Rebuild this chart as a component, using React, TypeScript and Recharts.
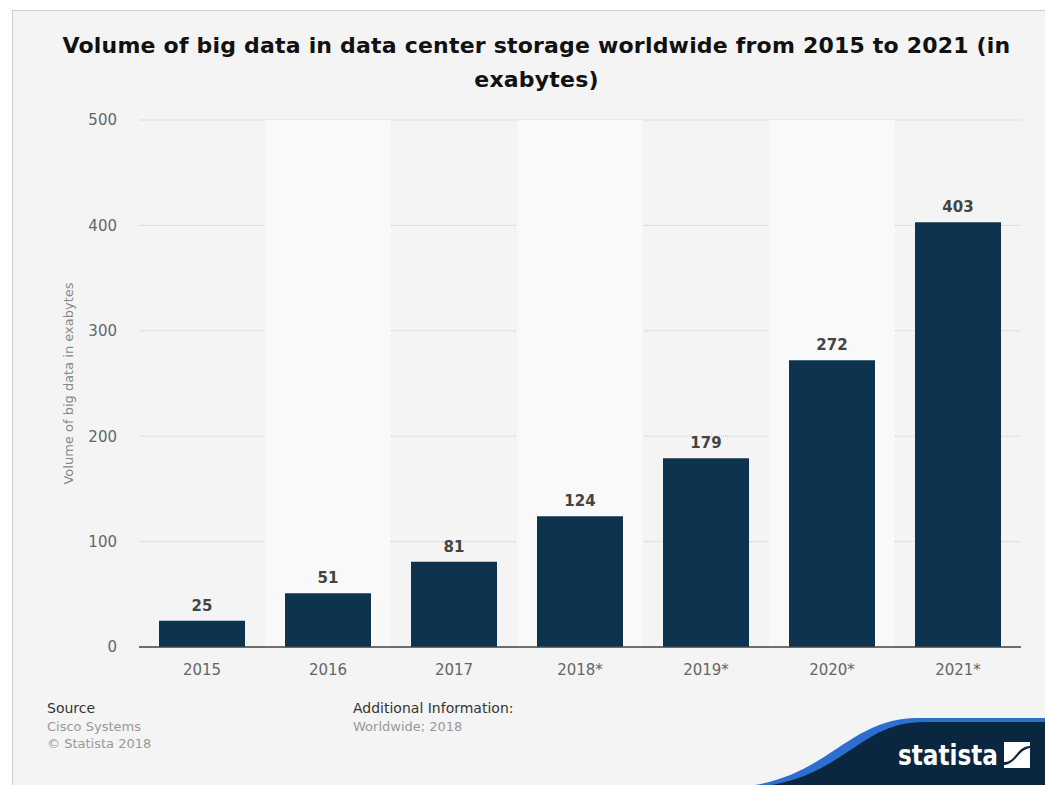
import { Bar, BarChart, CartesianGrid, LabelList, ReferenceArea, XAxis, YAxis } from "recharts"

const years = ["2015", "2016", "2017", "2018*", "2019*", "2020*", "2021*"]
const volumes = [25, 51, 81, 124, 179, 272, 403]
const yTicks = [0, 100, 200, 300, 400, 500]
const shadedYears = ["2016", "2018*", "2020*"]

const FONT = "'DejaVu Sans', Verdana, sans-serif"
const BAR_COLOR = "#0e334e"

const chartData = years.map((year, i) => ({ year, volume: volumes[i] }))

function StatistaLogo() {
  return (
    <svg
      width={1045}
      height={785}
      style={{ position: "absolute", left: 0, top: 0, pointerEvents: "none" }}
    >
      <path d="M 755 785 C 830 772, 850 720, 915 718 L 1045 718 L 1045 785 Z" fill="#2d6fd0" />
      <path d="M 772 785 C 845 772, 862 723, 922 722 L 1045 722 L 1045 785 Z" fill="#0b2740" />
      <text
        x={898}
        y={765}
        fill="#ffffff"
        fontFamily="'DejaVu Sans', sans-serif"
        fontWeight="bold"
        fontSize={29}
        textLength={100}
        lengthAdjust="spacingAndGlyphs"
      >
        statista
      </text>
      <path d="M 1004 742 L 1030 742 L 1030 746 C 1018 746, 1016 760, 1006 762 L 1004 762 Z" fill="#ffffff" />
      <path d="M 1030 768 L 1004 768 L 1004 765 C 1016 764, 1018 750, 1030 748 Z" fill="#ffffff" />
    </svg>
  )
}

export default function App() {
  return (
    <div
      style={{
        position: "absolute",
        left: 0,
        top: 0,
        width: 1045,
        height: 785,
        background: "#ffffff",
        overflow: "hidden",
        fontFamily: FONT,
      }}
    >
      <div
        style={{
          position: "absolute",
          left: 12,
          top: 10,
          right: 0,
          bottom: 0,
          background: "#f4f4f4",
          borderTop: "1px solid #cfcfcf",
          borderLeft: "1px solid #cfcfcf",
        }}
      />
      <div
        style={{
          position: "absolute",
          left: 0,
          top: 29,
          width: 1073,
          textAlign: "center",
          fontSize: 22,
          fontWeight: "bold",
          letterSpacing: 0.2,
          lineHeight: "34px",
          color: "#111",
        }}
      >
        Volume of big data in data center storage worldwide from 2015 to 2021 (in
        <br />
        exabytes)
      </div>

      <div style={{ position: "absolute", left: 0, top: 0 }}>
        <BarChart
          width={1045}
          height={785}
          data={chartData}
          margin={{ top: 120, right: 24, bottom: 108, left: 0 }}
        >
          {shadedYears.map((y) => (
            <ReferenceArea
              key={y}
              x1={y}
              x2={y}
              y1={0}
              y2={500}
              fill="#f9f9f9"
              fillOpacity={1}
              stroke="none"
              ifOverflow="extendDomain"
            />
          ))}
          <CartesianGrid vertical={false} stroke="#c8c8c8" strokeDasharray="1 1" />
          <XAxis
            dataKey="year"
            height={30}
            tickLine={false}
            tickSize={0}
            tickMargin={17}
            axisLine={{ stroke: "#444", strokeWidth: 1.5 }}
            tick={{ fill: "#666", fontSize: 15, fontFamily: FONT }}
            interval={0}
          />
          <YAxis
            width={139}
            domain={[0, 500]}
            ticks={yTicks}
            axisLine={false}
            tickLine={false}
            tickSize={0}
            tickMargin={22}
            tick={{ fill: "#666", fontSize: 15, fontFamily: FONT }}
            label={{
              value: "Volume of big data in exabytes",
              angle: -90,
              position: "insideLeft",
              offset: 68,
              fill: "#888",
              fontSize: 13,
              fontFamily: FONT,
              style: { textAnchor: "middle" },
            }}
          />
          <Bar dataKey="volume" fill={BAR_COLOR} barSize={86} isAnimationActive={false}>
            <LabelList
              dataKey="volume"
              position="top"
              offset={10}
              fill="#444"
              fontSize={15}
              fontWeight="bold"
              fontFamily={FONT}
            />
          </Bar>
        </BarChart>
      </div>

      <div style={{ position: "absolute", left: 47, top: 700, fontSize: 14, color: "#333" }}>Source</div>
      <div style={{ position: "absolute", left: 47, top: 718, fontSize: 13, color: "#999", lineHeight: "17px" }}>
        Cisco Systems
        <br />© Statista 2018
      </div>
      <div style={{ position: "absolute", left: 353, top: 700, fontSize: 14, color: "#333" }}>
        Additional Information:
      </div>
      <div style={{ position: "absolute", left: 353, top: 718, fontSize: 13, color: "#999", lineHeight: "17px" }}>
        Worldwide; 2018
      </div>

      <StatistaLogo />
    </div>
  )
}
